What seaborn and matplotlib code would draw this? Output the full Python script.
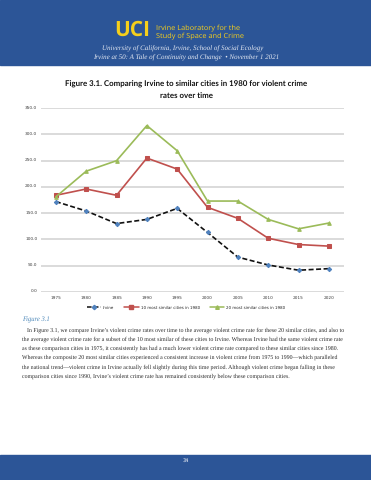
import matplotlib
matplotlib.use("Agg")
import matplotlib.pyplot as plt
import seaborn as sns
import pandas as pd
from matplotlib.patches import Rectangle
from matplotlib.lines import Line2D

years = [1975, 1980, 1985, 1990, 1995, 2000, 2005, 2010, 2015, 2020]
irvine = [172, 154, 130, 138, 159, 113, 66, 51, 41, 44]
similar10 = [184, 196, 184, 255, 234, 161, 140, 102, 90, 87]
similar20 = [181, 230, 250, 317, 269, 173, 173, 138, 120, 131]
yticks = [0, 50, 100, 150, 200, 250, 300, 350]
series_names = ["Irvine", "10 most similar cities in 1980", "20 most similar cities in 1980"]

sns.set_theme(style="white")
plt.rcParams['font.family'] = ['DejaVu Sans']
plt.rcParams['text.hinting'] = 'no_hinting'

W, H = 371, 480
fig = plt.figure(figsize=(W / 100, H / 100), dpi=100)
fig.patch.set_facecolor("white")

def fx(x):
    return x / W

def fy(y):
    return 1 - y / H

blue = "#2c5597"
gold = "#f5cf1c"

# header & footer bands
fig.add_artist(Rectangle((0, fy(65)), 1, 65 / H, transform=fig.transFigure, color=blue, zorder=0))
fig.add_artist(Rectangle((0, 0), 1, 25 / H, transform=fig.transFigure, color=blue, zorder=0))

fig.text(fx(132), fy(30.5), "UCI", color=gold, fontsize=15.0, fontweight="bold",
         family="Open Sans", ha="center", va="center")
fig.text(fx(155.5), fy(28.3), "Irvine Laboratory for the", color=gold, fontsize=5.3,
         family="Open Sans", ha="left", va="center")
fig.text(fx(155.5), fy(36.7), "Study of Space and Crime", color=gold, fontsize=5.3,
         family="Open Sans", ha="left", va="center")
fig.text(fx(183), fy(49), "University of California, Irvine, School of Social Ecology",
         color="#e3e8f2", fontsize=5.0, style="italic", family="Liberation Serif",
         ha="center", va="center")
fig.text(fx(186), fy(57.7), "Irvine at 50: A Tale of Continuity and Change  \u2022 November 1 2021",
         color="#e3e8f2", fontsize=5.0, style="italic", family="Liberation Serif",
         ha="center", va="center")

fig.text(fx(186), fy(84.5), "Figure 3.1. Comparing Irvine to similar cities in 1980 for violent crime",
         fontsize=5.7, fontweight="bold", family="Lato", ha="center", va="center", color="#111111")
fig.text(fx(186), fy(96.5), "rates over time",
         fontsize=5.7, fontweight="bold", family="Lato", ha="center", va="center", color="#111111")

# chart axes
top, bottom = 108.3, 291.7
ax = fig.add_axes([fx(40.7), fy(bottom), (344 - 40.7) / W, (bottom - top) / H])
ax.set_facecolor("none")

df = pd.DataFrame({
    "year": years * 3,
    "value": irvine + similar10 + similar20,
    "series": [series_names[0]] * len(years) + [series_names[1]] * len(years) + [series_names[2]] * len(years),
})

styles = [
    dict(color="#111111", mcolor="#4f81bd", marker="D", ls=(0, (3, 1.5)), ms=2.2),
    dict(color="#c0504d", mcolor="#c0504d", marker="s", ls="-", ms=2.6),
    dict(color="#9bbb59", mcolor="#9bbb59", marker="^", ls="-", ms=2.6),
]
for name, st in zip(series_names, styles):
    sub = df[df["series"] == name]
    sns.lineplot(data=sub, x="year", y="value", ax=ax, color=st["color"], linewidth=1.2,
                 linestyle=st["ls"], marker=st["marker"], markersize=st["ms"],
                 markerfacecolor=st["mcolor"], markeredgecolor=st["mcolor"], legend=False)

ax.set_xlim(1972.5, 2022.5)
ax.set_ylim(0, 350)
ax.set_yticks(yticks)
ax.set_yticklabels([f"{v:.1f}" for v in yticks], fontsize=3.1, color="#444444")
ax.set_xticks(years)
ax.set_xticklabels([str(y) for y in years], fontsize=3.1, color="#444444")
ax.tick_params(axis="y", length=0, pad=2.5)
ax.tick_params(axis="x", length=0, pad=3.5)
ax.grid(axis="y", color="#d4d4d4", linewidth=1.2)
ax.set_axisbelow(True)
for s in ax.spines.values():
    s.set_visible(False)
ax.set_xlabel("")
ax.set_ylabel("")

handles = [Line2D([0], [0], color=st["color"], linestyle=st["ls"], linewidth=1.1, marker=st["marker"],
                  markersize=st["ms"], markerfacecolor=st["mcolor"], markeredgecolor=st["mcolor"])
           for st in styles]
fig.legend(handles, series_names, loc="center", bbox_to_anchor=(fx(186), fy(307.5)), ncol=3,
           frameon=False, fontsize=2.9, handlelength=3.5, columnspacing=2.5, handletextpad=0.5)

fig.text(fx(22), fy(320), "Figure 3.1", fontsize=4.8, style="italic", family="Liberation Serif",
         color="#4a86b8", ha="left", va="center")

para = [
    "In Figure 3.1, we compare Irvine\u2019s violent crime rates over time to the average violent crime rate for these 20 similar cities, and also to",
    "the average violent crime rate for a subset of the 10 most similar of these cities to Irvine. Whereas Irvine had the same violent crime rate",
    "as these comparison cities in 1975, it consistently has had a much lower violent crime rate compared to these similar cities since 1980.",
    "Whereas the composite 20 most similar cities experienced a consistent increase in violent crime from 1975 to 1990\u2014which paralleled",
    "the national trend\u2014violent crime in Irvine actually fell slightly during this time period. Although violent crime began falling in these",
    "comparison cities since 1990, Irvine\u2019s violent crime rate has remained consistently below these comparison cities.",
]
for i, line in enumerate(para):
    x0 = 27 if i == 0 else 22
    fig.text(fx(x0), fy(330 + i * 9.2), line, fontsize=4.25, family="Liberation Serif",
             color="#2a2a2a", ha="left", va="center")

fig.text(fx(185.5), fy(461), "34", fontsize=3.6, color="white", ha="center", va="center")

fig.savefig("out.png", dpi=100, facecolor=fig.get_facecolor())
